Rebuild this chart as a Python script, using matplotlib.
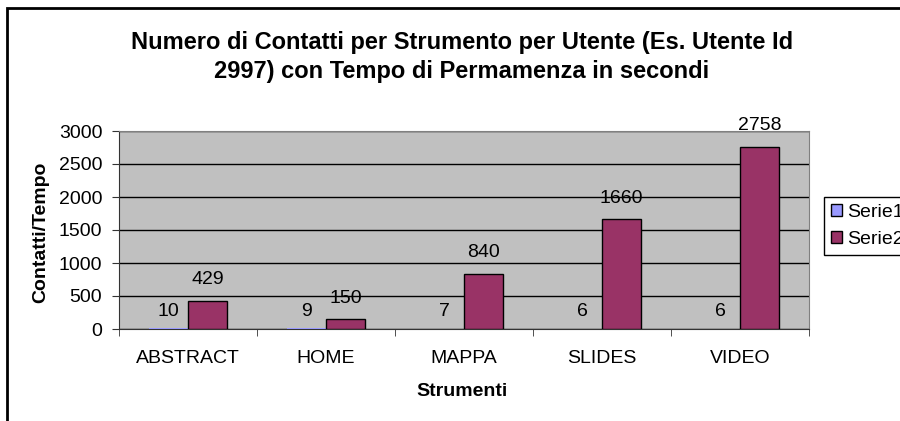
import matplotlib.pyplot as plt
import numpy as np
from matplotlib.patches import Rectangle, Patch

categories = ['ABSTRACT', 'HOME', 'MAPPA', 'SLIDES', 'VIDEO']
serie1 = [10, 9, 7, 6, 6]
serie2 = [429, 150, 840, 1660, 2758]
series_names = ['Serie1', 'Serie2']
colors = ['#9999FF', '#993366']

plt.rcParams['font.family'] = ['Liberation Sans', 'DejaVu Sans']

fig = plt.figure(figsize=(9, 4.21), dpi=100)
W, H = 900, 421
ax = fig.add_axes([119 / W, 1 - 329 / H, 690 / W, 198 / H])

x = np.arange(len(categories))
bw = 1 / 3.5
# serie1 values are too small to show a visible bar
b1 = ax.bar(x - bw / 2, serie1, bw, color=colors[0], linewidth=0, zorder=3)
b2 = ax.bar(x + bw / 2, serie2, bw, color=colors[1], edgecolor='black', linewidth=1, zorder=3)
ax.bar_label(b1, padding=6, fontsize=14)
ax.bar_label(b2, padding=9, fontsize=14)

ax.set_facecolor('#C0C0C0')
ax.set_xlim(-0.5, len(categories) - 0.5)
ax.set_ylim(0, 3000)
ax.set_yticks(range(0, 3001, 500))
ax.yaxis.grid(True, color='black', linewidth=1)
ax.set_axisbelow(True)
ax.set_xticks(x, categories)
ax.set_xticks(np.arange(-0.5, len(categories)), minor=True)
ax.tick_params(axis='x', which='major', length=0, pad=15, labelsize=14)
ax.tick_params(axis='x', which='minor', length=5, color='#333333', direction='out')
ax.tick_params(axis='y', length=5, color='#333333', labelsize=14, pad=7)
for s in ['top', 'right']:
    ax.spines[s].set_color('#808080')
for s in ['left', 'bottom']:
    ax.spines[s].set_color('#333333')

ax.set_xlabel('Strumenti', fontsize=14, fontweight='bold')
ax.xaxis.label.set_va('center')
ax.xaxis.set_label_coords(0.497, (329 - 391) / 198)
ax.set_ylabel('Contatti/Tempo', fontsize=14, fontweight='bold')
ax.yaxis.label.set_va('center')
ax.yaxis.set_label_coords((41 - 119) / 690, 0.49)

fig.text(462 / W, 1 - 57 / H,
         'Numero di Contatti per Strumento per Utente (Es. Utente Id\n2997) con Tempo di Permamenza in secondi',
         ha='center', va='center', fontsize=17, fontweight='bold', linespacing=1.3)

# legend is partly cut by the right edge, as in the original export
handles = [Patch(facecolor=c, edgecolor='black', linewidth=1) for c in colors]
fig.legend(handles=handles, labels=series_names, loc='upper left', bbox_to_anchor=(824 / W, 1 - 197 / H),
           fontsize=14, frameon=True, fancybox=False, edgecolor='black', framealpha=1,
           handlelength=0.55, handleheight=0.55, handletextpad=0.3, borderpad=0.36,
           labelspacing=0.5, borderaxespad=0)

fig.patches.append(Rectangle((7 / W, -0.1), 1.2, 1 - 8 / H + 0.1, transform=fig.transFigure,
                             fill=False, edgecolor='black', linewidth=2))

fig.savefig('out.png', dpi=100)
